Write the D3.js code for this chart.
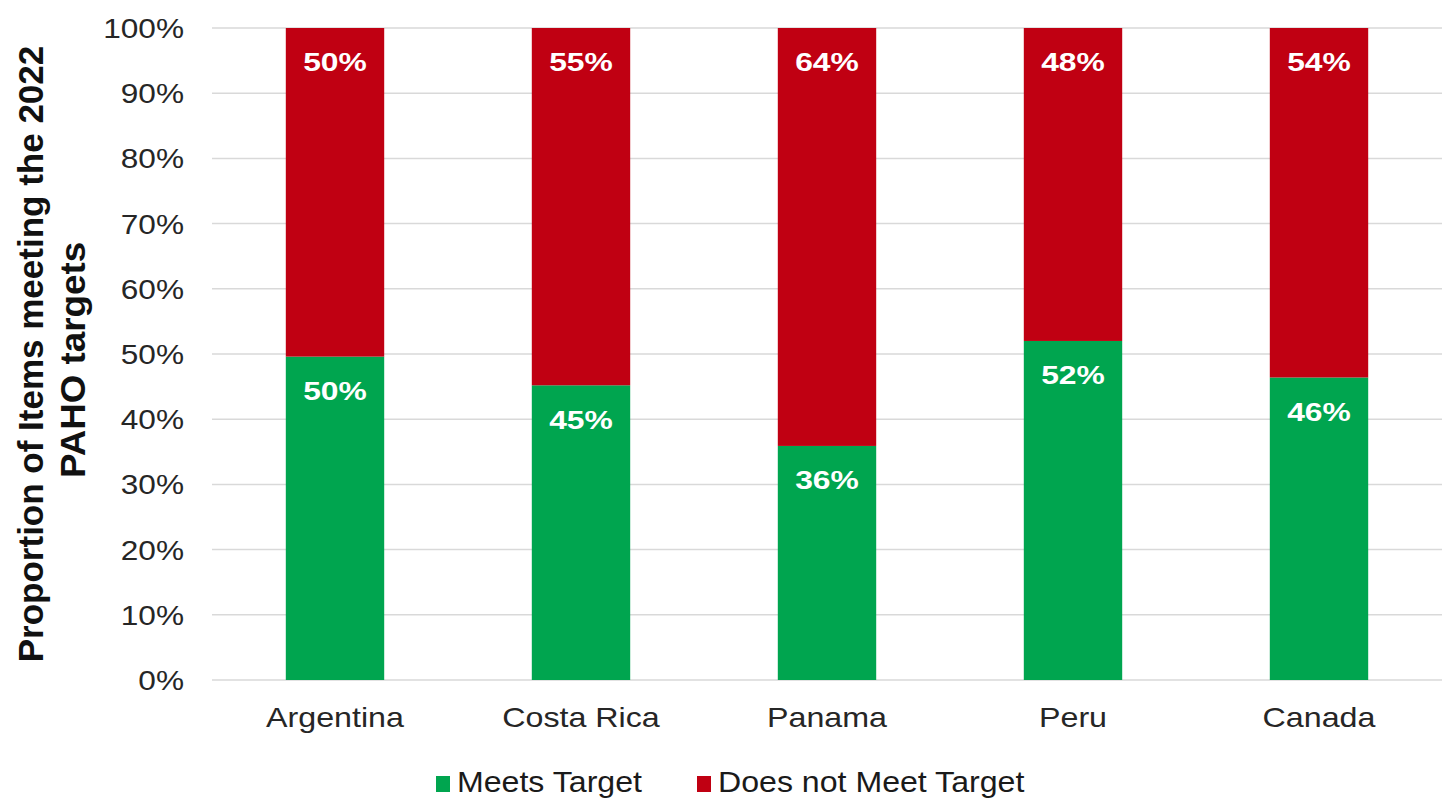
<!DOCTYPE html>
<html>
<head>
<meta charset="utf-8">
<script src="https://cdn.jsdelivr.net/npm/d3@7"></script>
<style>
  html, body { margin: 0; padding: 0; background: #fff; }
  svg { display: block; font-family: "Liberation Sans", Arial, sans-serif; }
</style>
</head>
<body>
<svg id="chart" width="1442" height="798"></svg>
<script>
const categories = ["Argentina", "Costa Rica", "Panama", "Peru", "Canada"];
const meets = [49.6, 45.2, 35.9, 52.0, 46.4];
const doesNot = [50.4, 54.8, 64.1, 48.0, 53.6];
const seriesNames = ["Meets Target", "Does not Meet Target"];
const seriesColors = ["#00A54F", "#C00012"];
const yTicks = [0, 10, 20, 30, 40, 50, 60, 70, 80, 90, 100];

const FONT = "Liberation Sans, Arial, sans-serif";
function stretch(sel, factor) {
  sel.each(function () {
    const L = this.getComputedTextLength();
    d3.select(this).attr("textLength", L * factor).attr("lengthAdjust", "spacingAndGlyphs");
  });
}

const svg = d3.select("#chart");
const margin = { left: 212, right: 0, top: 28, bottom: 118 };
const W = 1442, H = 798;
const x = d3.scaleBand().domain(categories).range([margin.left, W - margin.right]).paddingInner(0.6).paddingOuter(0.3);
const y = d3.scaleLinear().domain([0, 100]).range([H - margin.bottom, margin.top]);

// gridlines
svg.append("g").selectAll("line").data(yTicks).join("line")
  .attr("x1", margin.left).attr("x2", W - margin.right)
  .attr("y1", d => y(d)).attr("y2", d => y(d))
  .attr("stroke", "#d9d9d9").attr("stroke-width", 1.5);

// y axis labels
const yAxis = d3.axisLeft(y).tickValues(yTicks).tickFormat(d => d + "%").tickSize(0).tickPadding(28);
const gy = svg.append("g").attr("transform", `translate(${margin.left},0)`).call(yAxis);
gy.select(".domain").remove();
gy.selectAll("text").attr("font-size", 27).attr("fill", "#262626").attr("font-family", FONT).attr("dy", "0.35em")
  .call(stretch, 1.17);

// stacked data
const data = categories.map((c, i) => ({ cat: c, meets: meets[i], doesNot: doesNot[i] }));
const stack = d3.stack().keys(["meets", "doesNot"]);
const stacked = stack(data);

stacked.forEach((layer, li) => {
  svg.append("g").selectAll("rect").data(layer).join("rect")
    .attr("x", d => x(d.data.cat))
    .attr("width", x.bandwidth())
    .attr("y", d => y(d[1]))
    .attr("height", d => y(d[0]) - y(d[1]))
    .attr("fill", seriesColors[li]);
  svg.append("g").selectAll("text").data(layer).join("text")
    .attr("x", d => x(d.data.cat) + x.bandwidth() / 2)
    .attr("y", d => y(d[1]) + 34)
    .attr("dy", "0.35em")
    .attr("text-anchor", "middle")
    .attr("fill", "#fff")
    .attr("font-weight", "bold")
    .attr("font-size", 26.5)
    .text(d => Math.round(d[1] - d[0]) + "%")
    .call(stretch, 1.2);
});

// x axis labels
const xAxis = d3.axisBottom(x).tickSize(0);
const gx = svg.append("g").attr("transform", `translate(0,${y(0)})`).call(xAxis);
gx.select(".domain").remove();
gx.selectAll("text").attr("y", 47).attr("dy", 0).attr("font-size", 28).attr("fill", "#262626").attr("font-family", FONT)
  .call(stretch, 1.15);

// y title
const yt = svg.append("g").attr("transform", `translate(0, 354) rotate(-90)`);
yt.append("text").attr("x", 0).attr("y", 43)
  .attr("text-anchor", "middle").attr("font-weight", "bold").attr("font-size", 35).attr("fill", "#111")
  .text("Proportion of Items meeting the 2022");
yt.append("text").attr("x", -6).attr("y", 85)
  .attr("text-anchor", "middle").attr("font-weight", "bold").attr("font-size", 35).attr("fill", "#111")
  .text("PAHO targets").call(stretch, 1.05);

// legend
const legend = svg.append("g");
const legendX = [436, 697];
seriesNames.forEach((n, i) => {
  const g = legend.append("g").attr("transform", `translate(${legendX[i]}, 792)`);
  g.append("rect").attr("x", 0).attr("y", -16).attr("width", 14).attr("height", 16).attr("fill", seriesColors[i]);
  g.append("text").attr("x", 21).attr("y", 0)
    .attr("font-size", 30).attr("fill", "#1a1a1a").text(n).call(stretch, 1.07);
});
</script>
</body>
</html>
